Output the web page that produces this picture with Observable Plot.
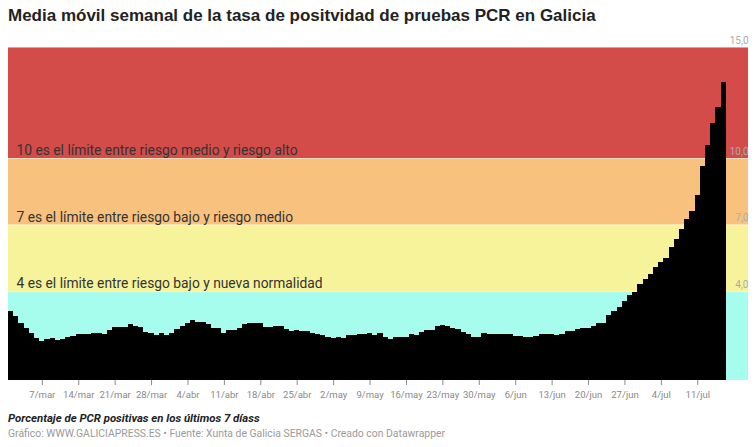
<!DOCTYPE html>
<html><head><meta charset="utf-8">
<script src="https://cdn.jsdelivr.net/npm/d3@7"></script>
<script src="https://cdn.jsdelivr.net/npm/@observablehq/plot@0.6"></script>
<style>
body{margin:0;background:#fff;font-family:Roboto,"Liberation Sans",sans-serif;width:756px;height:447px;overflow:hidden;position:relative}
#title{position:absolute;left:8px;top:6px;font-family:"Liberation Sans",Arial,sans-serif;font-size:17px;font-weight:700;color:#222;white-space:nowrap}
#chart{position:absolute;left:0;top:30px}
#caption{position:absolute;left:8px;top:411px;font-size:11.4px;font-weight:700;font-style:italic;color:#222;white-space:nowrap}
#source{position:absolute;left:8px;top:427px;font-size:10.4px;color:#9a9a9a;white-space:nowrap}
</style></head><body>
<div id="title">Media móvil semanal de la tasa de positvidad de pruebas PCR en Galicia</div>
<div id="chart"></div>
<div id="caption">Porcentaje de PCR positivas en los últimos 7 díass</div>
<div id="source">Gráfico: WWW.GALICIAPRESS.ES • Fuente: Xunta de Galicia SERGAS • Creado con Datawrapper</div>
<script>
// Data: daily 7-day moving average of PCR positivity (%), starting 1 March
const startDate = "2021-03-01";
const values = [
3.11,2.88,2.55,2.36,2.10,1.88,1.77,1.85,1.88,1.82,
1.83,1.95,1.98,2.06,2.06,2.09,2.10,2.12,2.06,2.25,
2.40,2.40,2.40,2.52,2.45,2.40,2.18,2.10,2.01,2.10,
2.01,2.10,2.31,2.45,2.58,2.70,2.61,2.61,2.52,2.33,
2.33,2.13,2.25,2.25,2.33,2.51,2.55,2.58,2.55,2.37,
2.40,2.45,2.43,2.30,2.22,2.27,2.19,2.19,2.10,2.06,
2.01,1.95,1.88,1.95,1.89,2.01,2.04,2.07,2.09,2.10,
2.03,2.10,1.92,1.86,1.95,1.95,1.95,2.07,2.03,2.15,
2.27,2.27,2.43,2.48,2.43,2.33,2.28,2.18,2.06,1.94,
1.95,2.10,2.06,2.07,2.07,2.07,2.06,1.98,1.98,1.95,
1.95,1.98,2.06,2.06,2.06,2.03,2.07,2.19,2.19,2.30,
2.36,2.36,2.43,2.55,2.55,2.93,3.11,3.30,3.57,3.83,
3.96,4.31,4.53,4.77,5.07,5.31,5.51,6.00,6.34,6.80,
7.24,7.63,8.33,9.64,10.58,11.56,12.30,13.41
];
const tickDates = ["2021-03-07","2021-03-14","2021-03-21","2021-03-28","2021-04-04","2021-04-11","2021-04-18","2021-04-25","2021-05-02","2021-05-09","2021-05-16","2021-05-23","2021-05-30","2021-06-06","2021-06-13","2021-06-20","2021-06-27","2021-07-04","2021-07-11"];
const tickLabels = ["7/mar","14/mar","21/mar","28/mar","4/abr","11/abr","18/abr","25/abr","2/may","9/may","16/may","23/may","30/may","6/jun","13/jun","20/jun","27/jun","4/jul","11/jul"];
const bandLows  = [0, 4, 7, 10];
const bandHighs = [4, 7, 10, 15];
const bandColors = ["#a6fdee", "#f7f39b", "#f8c27e", "#d34c4a"];
const noteValues = [10, 7, 4];
const noteTexts = [
  "10 es el límite entre riesgo medio y riesgo alto",
  "7 es el límite entre riesgo bajo y riesgo medio",
  "4 es el límite entre riesgo bajo y nueva normalidad"
];
const yTickValues = [4, 7, 10, 15];
const domainStartDay = "2021-02-28T12:00:00Z";
const domainEndDay = "2021-07-20T18:00:00Z";

const DAY = 864e5;
const t0 = Date.parse(startDate + "T00:00:00Z");
const data = values.map((v, i) => ({date: new Date(t0 + i * DAY), v}));
const xMin = new Date(domainStartDay), xMax = new Date(domainEndDay);
const bands = bandLows.map((lo, i) => ({y1: lo, y2: bandHighs[i], fill: bandColors[i]}));
const notes = noteValues.map((y, i) => ({y, text: noteTexts[i]}));
const tickMap = new Map(tickDates.map((d, i) => [Date.parse(d + "T00:00:00Z"), tickLabels[i]]));
const ticks = tickDates.map(d => new Date(d + "T00:00:00Z"));

const chart = Plot.plot({
  width: 756,
  height: 380,
  marginTop: 17,
  marginBottom: 30,
  marginLeft: 8,
  marginRight: 8,
  style: {fontFamily: "Roboto, sans-serif", fontSize: "9.5px", color: "#888", background: "transparent"},
  x: {type: "utc", domain: [xMin, xMax], ticks, tickFormat: d => tickMap.get(+d), tickSize: 5, tickPadding: 6, label: null},
  y: {domain: [0, 15], axis: null},
  marks: [
    Plot.rect(bands, {x1: () => xMin, x2: () => xMax, y1: "y1", y2: "y2", fill: "fill"}),
    Plot.ruleY(yTickValues, {stroke: "#ffffff", strokeOpacity: 0.45}),
    Plot.rect(data, {x1: d => new Date(+d.date - DAY / 2), x2: d => new Date(+d.date + DAY / 2), y1: 0, y2: "v", fill: "black", shapeRendering: "crispEdges"}),
    Plot.text(yTickValues, {y: d => d, text: d => d.toFixed(1).replace(".", ","), frameAnchor: "right", textAnchor: "end", dy: -7, fill: "#aaaaaa", fontSize: 10}),
    Plot.text(notes, {y: "y", text: "text", frameAnchor: "left", textAnchor: "start", dx: 8, dy: -8, fontSize: 13.8, fill: "#333333"})
  ]
});
document.getElementById("chart").appendChild(chart);
</script>
</body></html>
